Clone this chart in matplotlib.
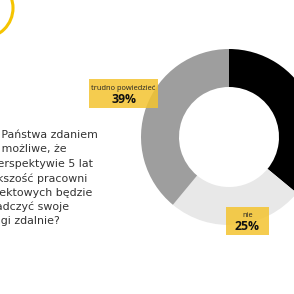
import matplotlib
matplotlib.use('Agg')
import matplotlib.pyplot as plt
from matplotlib.patches import Rectangle, Circle

plt.rcParams['font.family'] = ['Open Sans', 'DejaVu Sans']

# dane
labels = ['tak', 'nie', 'trudno powiedzieć']
values = [36, 25, 39]
colors = ['#000000', '#e8e8e8', '#9e9e9e']

question = ['Czy Państwa zdaniem',
            'jest możliwe, że',
            'w perspektywie 5 lat',
            'większość pracowni',
            'projektowych będzie',
            'świadczyć swoje',
            'usługi zdalnie?']

W = 294
H = 294

fig = plt.figure(figsize=(2.94, 2.94), dpi=100)
ax = fig.add_axes([0, 0, 1, 1])

ax.pie(values, colors=colors, startangle=90, counterclock=False,
       center=(229, H - 137), radius=88,
       wedgeprops=dict(width=38, linewidth=0))

ax.add_patch(Circle((-17, H - 8), 30, fill=False, edgecolor='#f5c400', linewidth=2.2))

# pytanie
for i, line in enumerate(question):
    ax.text(-22, H - 135 - i*14.4, line, fontsize=7.9, color='#333333',
            ha='left', va='center', family='DejaVu Sans')

# etykiety
def box(xc, yc, w, h, top, pct):
    ax.add_patch(Rectangle((xc - w/2, H - yc - h/2), w, h, facecolor='#f4c430',
                           alpha=0.85, edgecolor='none', zorder=5))
    ax.text(xc, H - yc + 5.5, top, fontsize=5.4, ha='center', va='center',
            color='#222222', zorder=6)
    ax.text(xc, H - yc - 6, pct, fontsize=8.8, fontweight='bold', ha='center',
            va='center', color='#111111', zorder=6)

box(123.5, 93.5, 69, 29, labels[2], str(values[2]) + '%')
box(247.5, 221, 43, 28, labels[1], str(values[1]) + '%')

ax.set_xlim(0, W)
ax.set_ylim(0, H)
ax.set_aspect('equal')
ax.axis('off')

plt.savefig('out.png', dpi=100)
